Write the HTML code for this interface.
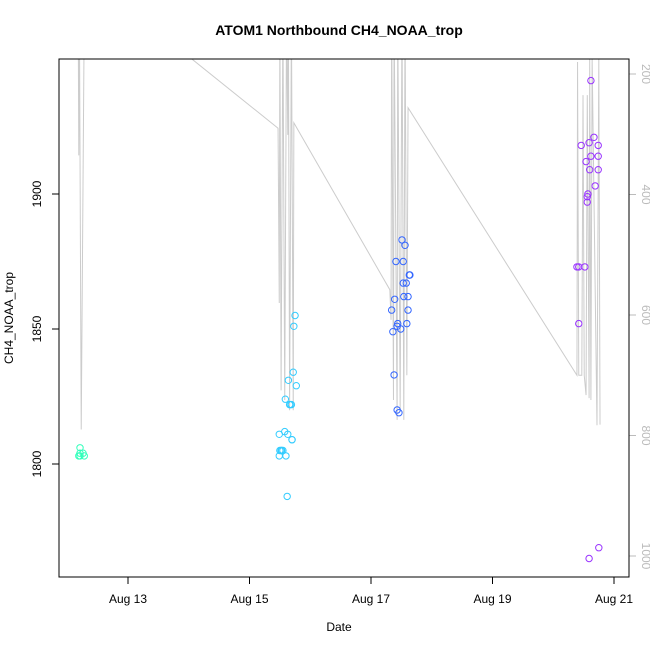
<!DOCTYPE html>
<html><head><meta charset="utf-8"><style>
body{margin:0;background:#fff;font-family:"Liberation Sans",sans-serif}
svg text{font-family:"Liberation Sans",sans-serif}
</style></head><body>
<svg id="chart" width="650" height="650">
<defs><clipPath id="clip"><rect x="59" y="59" width="570" height="518"/></clipPath></defs>
<text x="339" y="35" text-anchor="middle" font-size="14" font-weight="bold">ATOM1 Northbound CH4_NOAA_trop</text>
<text x="339" y="631" text-anchor="middle" font-size="12">Date</text>
<text transform="translate(13,318) rotate(-90)" text-anchor="middle" font-size="12">CH4_NOAA_trop</text>
<g id="alt" clip-path="url(#clip)"></g>
<g id="pts"></g>
<g id="axes"></g>
<rect x="59" y="59" width="570" height="518" fill="none" stroke="#000"/>
</svg>
<script>
const xTicks=[13,15,17,19,21];
const xTickLabels=["Aug 13","Aug 15","Aug 17","Aug 19","Aug 21"];
const yTicks=[1800,1850,1900];
const altTicks=[200,400,600,800,1000];
const ch4Days=[12.19,12.21,12.21,12.26,12.28,12.21,
15.49,15.50,15.52,15.53,15.55,15.60,15.62,15.58,15.63,15.59,15.64,15.67,15.69,15.70,15.70,15.72,15.73,15.75,15.77,15.66,15.49];
const ch4Vals=[1803,1804,1806,1804,1803,1803,
1811,1805,1805,1805,1805,1803,1788,1812,1811,1824,1831,1822,1822,1809,1809,1834,1851,1855,1829,1822,1803];
const ch4Group=[0,0,0,0,0,0,1,1,1,1,1,1,1,1,1,1,1,1,1,1,1,1,1,1,1,1,1];
const d3Days=[17.51,17.56,17.41,17.53,17.63,17.64,17.53,17.58,17.54,17.61,17.39,17.34,17.61,17.44,17.43,17.59,17.36,17.49,17.38,17.43,17.46];
const d3Vals=[1883,1881,1875,1875,1870,1870,1867,1867,1862,1862,1861,1857,1857,1852,1851,1852,1849,1850,1833,1820,1819];
const d4Days=[20.62,20.67,20.46,20.59,20.74,20.54,20.62,20.74,20.60,20.74,20.69,20.57,20.56,20.56,20.39,20.42,20.52,20.42,20.59,20.75];
const d4Vals=[1942,1921,1918,1919,1918,1912,1914,1914,1909,1909,1903,1900,1899,1897,1873,1873,1873,1852,1765,1769];
const altDays=[12.18,12.19,12.20,12.23,12.28,14.05,15.47,15.49,15.50,15.52,15.55,15.58,15.61,15.63,15.64,15.66,15.69,15.72,15.73,17.31,17.33,17.34,17.37,17.38,17.43,17.44,17.48,17.51,17.54,17.56,17.59,17.61,20.39,20.40,20.42,20.47,20.49,20.51,20.54,20.56,20.59,20.60,20.62,20.64,20.72,20.75,20.77];
const altVals=[100,335,100,790,100,175,290,580,100,725,100,741,100,301,100,758,100,758,281,558,608,100,741,100,774,100,758,100,774,100,700,256,700,180,700,700,235,700,733,235,738,175,741,175,783,175,782];
const X=d=>128+(d-13)*60.75;
const Y=v=>194+(1900-v)*2.7;
const A=a=>74+(a-200)*0.6025;
const ns="http://www.w3.org/2000/svg";
function mk(t,at,parent){const e=document.createElementNS(ns,t);for(const k in at)e.setAttribute(k,at[k]);parent.appendChild(e);return e;}
const axes=document.getElementById('axes');
xTicks.forEach((d,i)=>{
 const l=mk('line',{x1:X(d),x2:X(d),y1:577,y2:584,stroke:'#000'},axes);
 
 
 const t=mk('text',{x:X(d),y:603,'text-anchor':'middle','font-size':12},axes);t.textContent=xTickLabels[i];
 
 
});
yTicks.forEach(v=>{
 const l=mk('line',{x1:52,x2:59,y1:Y(v),y2:Y(v),stroke:'#000'},axes);
 
 
 const t=mk('text',{'text-anchor':'middle','font-size':12,transform:`translate(41,${Y(v)}) rotate(-90)`},axes);t.textContent=v;
 
 
});
altTicks.forEach(v=>{
 const l=mk('line',{x1:629,x2:636,y1:A(v),y2:A(v),stroke:'#bbb'},axes);
 
 
 const t=mk('text',{'text-anchor':'middle','font-size':12,fill:'#bbb',transform:`translate(642,${A(v)}) rotate(90)`},axes);t.textContent=v;
 
 
});
const alt=document.getElementById('alt');
const pl=mk('polyline',{points:altDays.map((d,i)=>X(d)+','+A(altVals[i])).join(' '),fill:'none',stroke:'#ccc','stroke-width':1},alt);


const pts=document.getElementById('pts');
const cols=['#33ffbb','#33ccff','#3366ff','#9933ff'];
function draw(ds,vs,g){ds.forEach((d,i)=>{
 const c=mk('circle',{cx:X(d),cy:Y(vs[i]),r:3.2,fill:'none',stroke:cols[typeof g==='number'?g:g[i]],'stroke-width':1},pts);
 
 
});}
draw(ch4Days,ch4Vals,ch4Group);draw(d3Days,d3Vals,2);draw(d4Days,d4Vals,3);
</script>
</body></html>
